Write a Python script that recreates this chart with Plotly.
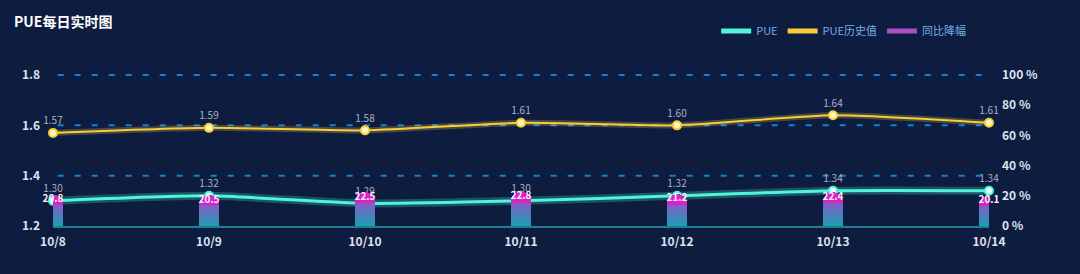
import plotly.graph_objects as go

# ---- data ----
dates = ["10/8", "10/9", "10/10", "10/11", "10/12", "10/13", "10/14"]
pue = [1.30, 1.32, 1.29, 1.30, 1.32, 1.34, 1.34]
pue_hist = [1.57, 1.59, 1.58, 1.61, 1.60, 1.64, 1.61]
yoy_drop = [20.8, 20.5, 22.5, 22.8, 21.2, 22.4, 20.1]
left_ticks = [1.2, 1.4, 1.6, 1.8]
right_ticks = [0, 20, 40, 60, 80, 100]
right_labels = [f"{v} %" for v in right_ticks]

BG = "#0e1c40"
TEAL = "#4ef5d8"
YELLOW = "#f7cd3c"
GRID = "#1680d4"
FONT = "Noto Sans CJK SC"

fig = go.Figure()

# gradient bars: each bar split into stacked slices, teal bottom -> magenta top
c0 = (30, 158, 178)   # teal
c1 = (128, 96, 198)   # purple
c2 = (222, 32, 196)   # magenta
body_slices = 10
cap_share = 0.33      # share of the bar value drawn as the top (rounded) slice


def lerp(a, b, t):
    return tuple(int(round(a[k] + (b[k] - a[k]) * t)) for k in range(3))


for i in range(body_slices):
    t = i / (body_slices - 1)
    c = lerp(c0, c1, t)
    fig.add_trace(go.Bar(
        x=dates, y=[v * (1 - cap_share) / body_slices for v in yoy_drop], yaxis="y2",
        marker=dict(color="rgb(%d,%d,%d)" % c, line=dict(width=0)),
        width=0.13, showlegend=False, hoverinfo="skip", cliponaxis=False,
    ))
fig.add_trace(go.Bar(
    x=dates, y=[v * cap_share for v in yoy_drop], yaxis="y2",
    marker=dict(color="rgb(%d,%d,%d)" % c2, line=dict(width=0)),
    width=0.13, showlegend=False, hoverinfo="skip", cliponaxis=False,
))

# bar labels
fig.add_trace(go.Scatter(
    x=dates, y=yoy_drop, yaxis="y2", mode="text",
    text=[f"{v:.1f}" for v in yoy_drop], textposition="bottom center",
    textfont=dict(color="#f4eefc", size=10, family=FONT, weight="bold"),
    showlegend=False, hoverinfo="skip", cliponaxis=False,
))

# PUE history (yellow)
fig.add_trace(go.Scatter(
    x=dates, y=pue_hist, mode="lines",
    line=dict(color="rgba(247,205,60,0.25)", width=6, shape="spline", smoothing=0.6),
    showlegend=False, hoverinfo="skip", cliponaxis=False,
))
fig.add_trace(go.Scatter(
    x=dates, y=pue_hist, mode="lines+markers+text",
    line=dict(color=YELLOW, width=2, shape="spline", smoothing=0.6),
    marker=dict(size=8, color="#fff6c8", line=dict(color=YELLOW, width=2)),
    text=[f"{v:.2f}" for v in pue_hist], textposition="top center",
    textfont=dict(color="#aab2c4", size=10, family=FONT),
    showlegend=False, cliponaxis=False,
))

# PUE (teal)
fig.add_trace(go.Scatter(
    x=dates, y=pue, mode="lines",
    line=dict(color="rgba(78,245,216,0.25)", width=8, shape="spline", smoothing=0.6),
    showlegend=False, hoverinfo="skip", cliponaxis=False,
))
fig.add_trace(go.Scatter(
    x=dates, y=pue, mode="lines+markers+text",
    line=dict(color=TEAL, width=3, shape="spline", smoothing=0.6),
    marker=dict(size=8, color="#e8fffa", line=dict(color=TEAL, width=2)),
    text=[f"{v:.2f}" for v in pue], textposition="top center",
    textfont=dict(color="#aab2c4", size=10, family=FONT),
    showlegend=False, cliponaxis=False,
))

# legend entries
for name, col in [("PUE", TEAL), ("PUE历史值", YELLOW), ("同比降幅", "#a651c6")]:
    fig.add_trace(go.Scatter(x=[None], y=[None], mode="lines", name=name,
                             line=dict(color=col, width=5)))

# dashed grid lines at the left-axis ticks (above the baseline)
for v in left_ticks[1:]:
    fig.add_shape(type="line", xref="paper", x0=0.005, x1=0.995, yref="y", y0=v, y1=v,
                  layer="below", line=dict(color=GRID, width=2, dash="6px,11px"))

fig.update_layout(
    width=1080, height=274,
    margin=dict(l=53, r=91, t=73, b=48),
    paper_bgcolor=BG, plot_bgcolor=BG,
    barmode="stack", barcornerradius=10,
    font=dict(family=FONT, color="#dde2ec", size=12),
    title=dict(text="PUE每日实时图", x=0.013, xanchor="left", y=0.92, yanchor="middle",
               font=dict(size=14, color="#ffffff", family=FONT, weight="bold")),
    legend=dict(orientation="h", x=0.981, xanchor="right", y=1.275, yanchor="middle",
                font=dict(color="#72aee6", size=11, family=FONT),
                bgcolor="rgba(0,0,0,0)", itemwidth=30, traceorder="normal"),
    xaxis=dict(type="category", range=[0, 6], showgrid=False,
               showline=True, linecolor="#1d7f95", linewidth=1.5,
               ticks="", ticklabelstandoff=4,
               tickfont=dict(size=12, color="#dde2ec", weight="bold"),
               fixedrange=True),
    yaxis=dict(range=[1.2, 1.808], tickvals=left_ticks, ticktext=[f"{v:.1f}" for v in left_ticks],
               showgrid=False, zeroline=False, showline=False, ticks="", ticklabelstandoff=12,
               tickfont=dict(size=12, color="#dde2ec", weight="bold")),
    yaxis2=dict(range=[0, 101.333], overlaying="y", side="right", tickvals=right_ticks, ticktext=right_labels,
                showgrid=False, zeroline=False, showline=False, ticks="", ticklabelstandoff=12,
                tickfont=dict(size=12, color="#dde2ec", weight="bold")),
)

fig.write_html("out.html")
